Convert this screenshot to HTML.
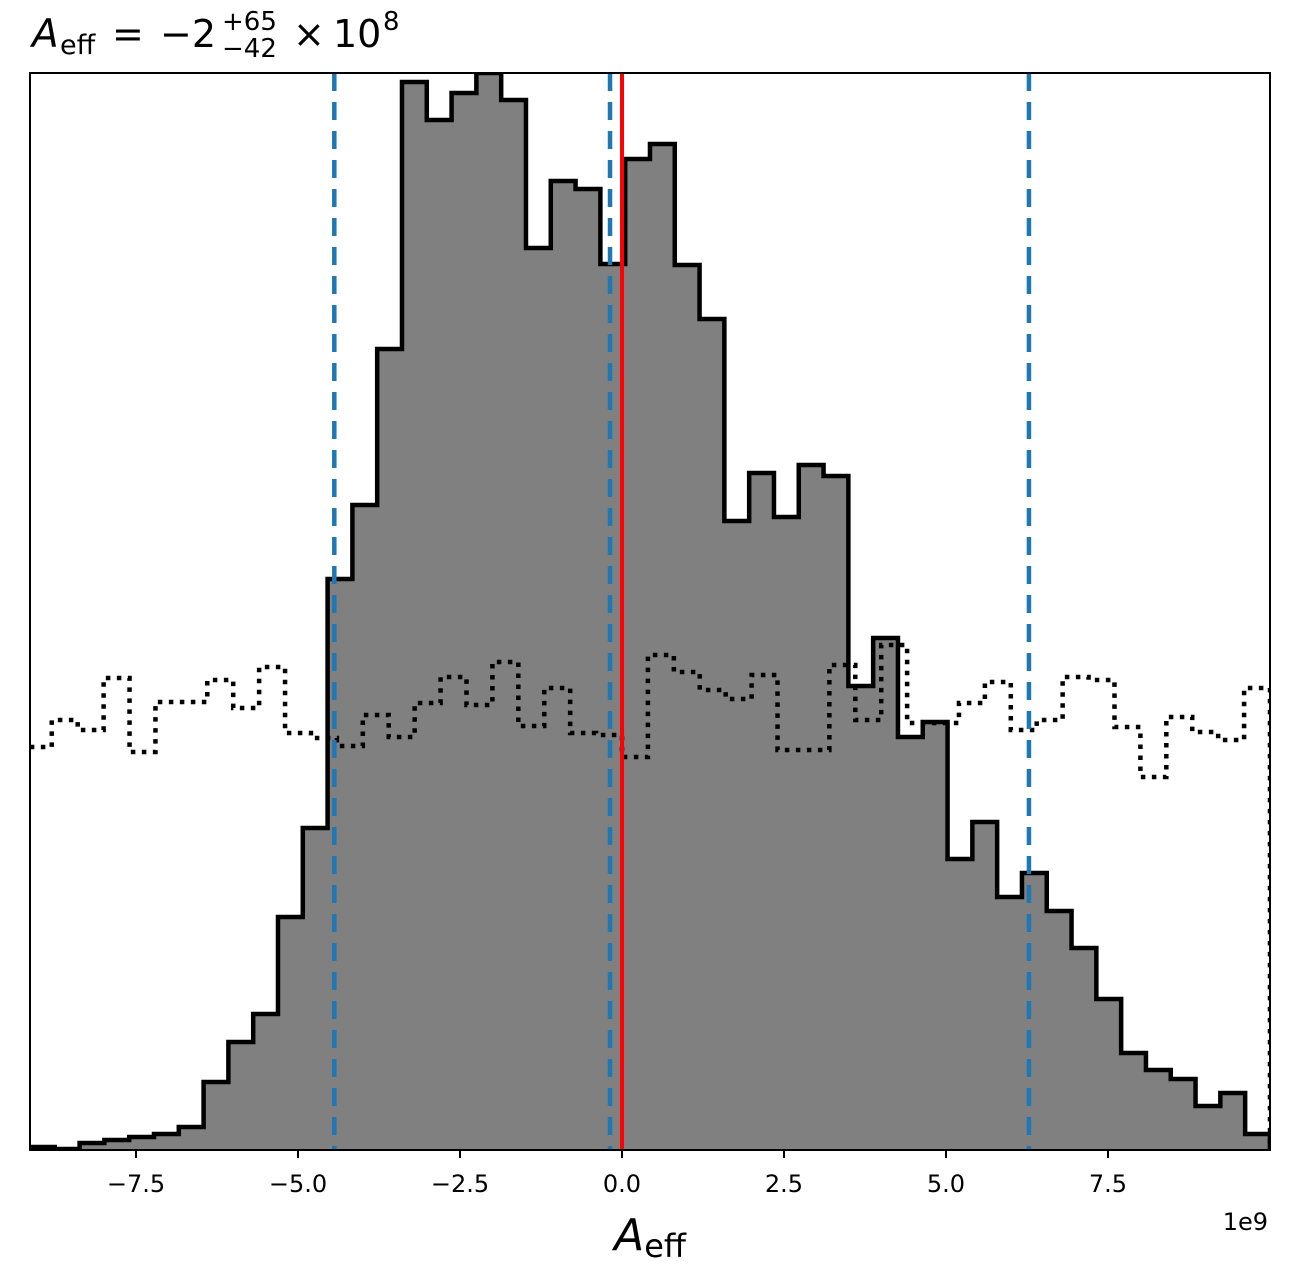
<!DOCTYPE html>
<html><head><meta charset="utf-8"><style>
html,body{margin:0;padding:0;background:#fff;}
svg{display:block;font-family:"DejaVu Sans","Liberation Sans",sans-serif;}
</style></head><body>
<svg id="chart" width="1289" height="1278" viewBox="0 0 1289 1278">
<g font-size="38" fill="#000">
  <text x="32" y="47" font-style="italic" font-size="39">A</text>
  <text x="60" y="54" font-size="27">eff</text>
  <text x="112" y="47">=</text>
  <text x="160" y="47">−2</text>
  <text x="222" y="30" font-size="26">+65</text>
  <text x="222" y="57" font-size="26">−42</text>
  <text x="293" y="47">×</text>
  <text x="333" y="47">10</text>
  <text x="383" y="30" font-size="26">8</text>
</g>
<g id="plot"></g>
</svg>
<script>
// ---- data ----
const histStart = -9.136;      // 1e9 units
const histBinWidth = 0.3827;
const histCounts = [3,1,7,10,13,16,23,68,108,136,233,322,571,645,801,1068,1030,1057,1077,1050,902,969,961,886,991,1006,885,831,629,677,633,685,674,464,512,413,428,291,328,253,277,239,202,151,97,80,71,44,57,16];
const priorStart = -9.2;
const priorBinWidth = 0.4;
const priorCounts = [403,430,420,472,398,448,448,470,442,483,417,412,404,435,413,447,473,445,488,424,462,417,415,393,495,478,460,451,475,400,400,485,430,505,427,427,447,468,420,430,473,470,423,373,433,418,410,462];
const credLines = [-4.44, -0.185, 6.28];
const truthValue = 0.0;
const xTicks = [-7.5, -5.0, -2.5, 0.0, 2.5, 5.0, 7.5];
const xTickLabels = ["−7.5","−5.0","−2.5","0.0","2.5","5.0","7.5"];
const xMin = -9.136, xMax = 10.0, yMax = 1077;

// ---- axes ----
const L=30,R=1270,T=73,B=1150;
const sx=v=>L+(v-xMin)/(xMax-xMin)*(R-L);
const sy=v=>B-v/yMax*(B-T);
const NS="http://www.w3.org/2000/svg";
const g=document.getElementById('plot');
function mk(tag,attrs,parent){const e=document.createElementNS(NS,tag);for(const k in attrs)e.setAttribute(k,attrs[k]);(parent||g).appendChild(e);return e;}

const defs=mk('defs',{});
const cp=mk('clipPath',{id:'clip'},defs);
mk('rect',{x:L,y:T,width:R-L,height:B-T},cp);

const plotG=mk('g',{'clip-path':'url(#clip)'});



function stepPath(start,w,counts){
  let d='M'+sx(start)+','+sy(0);
  counts.forEach((c,i)=>{d+=' L'+sx(start+i*w)+','+sy(c)+' L'+sx(start+(i+1)*w)+','+sy(c);});
  d+=' L'+sx(start+counts.length*w)+','+sy(0);
  return d;
}
const fill=mk('path',{d:stepPath(histStart,histBinWidth,histCounts)+' Z',fill:'#808080',stroke:'none'},plotG);


const prior=mk('path',{d:stepPath(priorStart,priorBinWidth,priorCounts),fill:'none',stroke:'#000','stroke-width':4.5,'stroke-dasharray':'4.5,6.5'},plotG);


const outline=mk('path',{d:stepPath(histStart,histBinWidth,histCounts),fill:'none',stroke:'#000','stroke-width':4.5,'stroke-linejoin':'miter'},plotG);


credLines.forEach((v,i)=>{
  const l=mk('line',{x1:sx(v),x2:sx(v),y1:T,y2:B,stroke:'#1f77b4','stroke-width':4.5,'stroke-dasharray':'18,11'},plotG);
  
  
});
const tl=mk('line',{x1:sx(truthValue),x2:sx(truthValue),y1:T,y2:B,stroke:'#ff0000','stroke-width':4},plotG);



const frame=mk('rect',{x:L,y:T,width:R-L,height:B-T,fill:'none',stroke:'#000','stroke-width':2});



xTicks.forEach((v,i)=>{
  const t=mk('line',{x1:sx(v),x2:sx(v),y1:B,y2:B+8,stroke:'#000','stroke-width':2});
  
  
  const tx=mk('text',{x:sx(v),y:B+42,'text-anchor':'middle','font-size':24,fill:'#000'});
  tx.textContent=xTickLabels[i];
  
  
});
const off=mk('text',{x:1268,y:1230,'text-anchor':'end','font-size':24,fill:'#000'});
off.textContent='1e9';


const xl=mk('text',{x:650,y:1250,'text-anchor':'middle','font-size':44,fill:'#000'});


const a=mk('tspan',{'font-style':'italic'},xl);a.textContent='A';
const s=mk('tspan',{dy:7,'font-size':32},xl);s.textContent='eff';
</script>
</body></html>
